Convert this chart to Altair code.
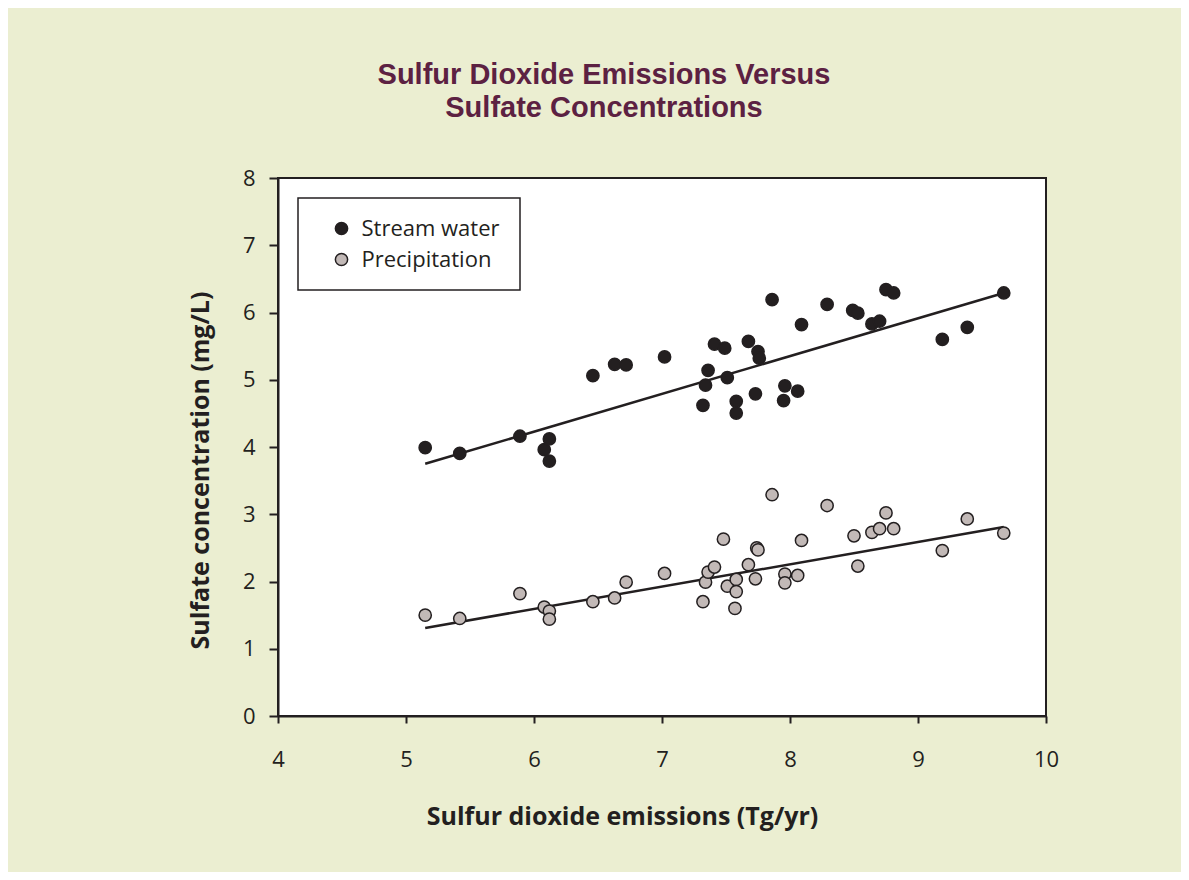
import altair as alt
import pandas as pd

series_names = ["Stream water", "Precipitation"]

stream_x = [5.15, 5.42, 5.89, 6.08, 6.12, 6.12, 6.46, 6.63, 6.72, 7.02,
            7.32, 7.34, 7.36, 7.41, 7.49, 7.51, 7.58, 7.58, 7.675, 7.73,
            7.75, 7.76, 7.86, 7.95, 7.96, 8.06, 8.09, 8.29, 8.49, 8.53,
            8.64, 8.70, 8.75, 8.81, 9.19, 9.385, 9.67]
stream_y = [3.99, 3.905, 4.16, 3.96, 4.12, 3.79, 5.06, 5.23, 5.22, 5.34,
            4.62, 4.92, 5.14, 5.53, 5.47, 5.03, 4.68, 4.505, 5.57, 4.79,
            5.42, 5.32, 6.19, 4.69, 4.91, 4.83, 5.82, 6.12, 6.03, 5.99,
            5.83, 5.87, 6.34, 6.29, 5.60, 5.78, 6.29]

precip_x = [5.15, 5.42, 5.89, 6.08, 6.12, 6.12, 6.46, 6.63, 6.72, 7.02,
            7.32, 7.34, 7.36, 7.41, 7.48, 7.51, 7.57, 7.58, 7.58, 7.675,
            7.73, 7.74, 7.75, 7.86, 7.96, 7.96, 8.06, 8.09, 8.29, 8.50,
            8.53, 8.64, 8.70, 8.75, 8.81, 9.19, 9.385, 9.67]
precip_y = [1.50, 1.45, 1.82, 1.62, 1.56, 1.44, 1.70, 1.755, 1.99, 2.12,
            1.70, 1.99, 2.14, 2.215, 2.63, 1.93, 1.60, 2.03, 1.85, 2.25,
            2.04, 2.50, 2.47, 3.29, 2.11, 1.98, 2.09, 2.61, 3.13, 2.68,
            2.23, 2.73, 2.785, 3.02, 2.785, 2.46, 2.93, 2.72]

# fitted trend lines, endpoints
trend_x = [5.15, 9.67]
stream_trend_y = [3.75, 6.29]
precip_trend_y = [1.31, 2.81]

x_ticks = [4, 5, 6, 7, 8, 9, 10]
y_ticks = [0, 1, 2, 3, 4, 5, 6, 7, 8]

df = pd.concat([
    pd.DataFrame({"emissions": stream_x, "sulfate": stream_y, "series": series_names[0]}),
    pd.DataFrame({"emissions": precip_x, "sulfate": precip_y, "series": series_names[1]}),
], ignore_index=True)

trend_df = pd.concat([
    pd.DataFrame({"emissions": trend_x, "sulfate": stream_trend_y, "series": series_names[0]}),
    pd.DataFrame({"emissions": trend_x, "sulfate": precip_trend_y, "series": series_names[1]}),
], ignore_index=True)

INK = "#231F20"
FONT = "Open Sans"

x_enc = alt.X("emissions:Q",
              scale=alt.Scale(domain=[4, 10], nice=False, zero=False),
              axis=alt.Axis(values=x_ticks, title="Sulfur dioxide emissions (Tg/yr)",
                            titleX=344, titleY=108, titleAlign="center",
                            titleBaseline="alphabetic", labelPadding=26, tickSize=7,
                            labelFlush=False))
y_enc = alt.Y("sulfate:Q",
              scale=alt.Scale(domain=[0, 8], nice=False),
              axis=alt.Axis(values=y_ticks, title="Sulfate concentration (mg/L)",
                            titleX=-70, titleY=292, titleAngle=270, titleAlign="center",
                            titleBaseline="alphabetic", labelPadding=14, tickSize=9,
                            labelFlush=False))

lines = alt.Chart(trend_df).mark_line(color=INK, strokeWidth=2.5).encode(
    x=x_enc, y=y_enc, detail="series:N"
)

points = alt.Chart(df).mark_circle(size=150, opacity=1, stroke=INK, strokeWidth=1.5).encode(
    x=x_enc, y=y_enc,
    fill=alt.Fill("series:N",
                  scale=alt.Scale(domain=series_names, range=[INK, "#C2B9B7"]),
                  legend=alt.Legend(title=None, orient="none", legendX=20, legendY=20,
                                    fillColor="white", strokeColor=INK,
                                    padding=19.5, rowPadding=9,
                                    labelFont=FONT, labelFontSize=22, labelColor=INK,
                                    labelLimit=400,
                                    symbolSize=150, symbolType="circle",
                                    symbolStrokeColor=INK, symbolStrokeWidth=1.5,
                                    symbolOffset=13, labelOffset=9)),
)

chart = alt.layer(lines, points).properties(
    width=768, height=538,
    autosize=alt.AutoSizeParams(type="none"),
    padding={"left": 270, "top": 170, "right": 135, "bottom": 156},
    background="#EBEED1",
    title=alt.TitleParams(["Sulfur Dioxide Emissions Versus", "Sulfate Concentrations"],
                          font="Liberation Sans", fontSize=29, fontWeight="bold",
                          color="#5C2142", anchor="middle", dx=-58, offset=44,
                          lineHeight=33.5),
).configure_view(
    stroke=INK, strokeWidth=2, fill="white"
).configure_axis(
    grid=False, domainColor=INK, domainWidth=2, tickColor=INK, tickWidth=2,
    labelFont=FONT, labelFontSize=22, labelColor=INK,
    titleFont=FONT, titleFontSize=25, titleFontWeight="bold", titleColor=INK,
).configure_legend(
    strokeWidth=1.5
)

chart.save("out.html", embed_options={"renderer": "svg", "actions": False})
